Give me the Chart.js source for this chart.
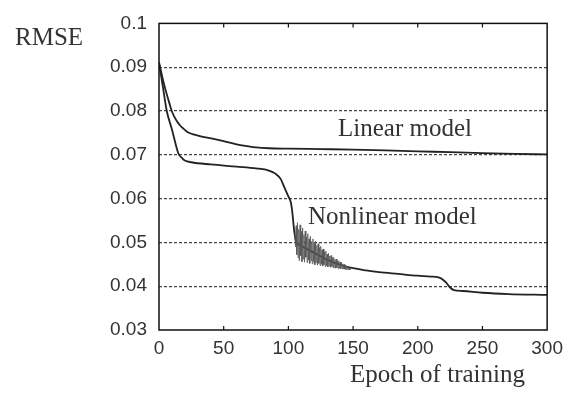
<!DOCTYPE html>
<html>
<head>
<meta charset="utf-8">
<script src="https://cdn.jsdelivr.net/npm/chart.js@4"></script>
<style>
  html, body { margin: 0; padding: 0; background: #fff; }
  #wrap { width: 570px; height: 394px; }
</style>
</head>
<body>
<div id="wrap"><canvas id="chart" width="570" height="394"></canvas></div>
<script>
// values (epoch, RMSE)
const linearEpochs = [0, 2, 4, 6, 8, 10, 12, 14, 16, 18, 20, 22, 26, 30, 36, 43, 50, 60, 68, 75, 85, 100, 125, 150, 175, 200, 225, 250, 275, 300];
const linearRmse = [0.0911, 0.0885, 0.0860, 0.0838, 0.0818, 0.0799, 0.0786, 0.0776, 0.0768, 0.0762, 0.0757, 0.0752, 0.0747, 0.0744, 0.0740, 0.0736, 0.0731, 0.0724, 0.0720, 0.0717, 0.0715, 0.0714, 0.0713, 0.0712, 0.0710, 0.0708, 0.0706, 0.0704, 0.0702, 0.0701];

const nonlinearEpochs = [0, 3, 6, 10, 15, 18, 20, 25, 40, 60, 75, 85, 90, 94, 97, 100, 102, 103, 104, 105, 106, 110, 115, 120, 130, 140, 150, 160, 170, 185, 200, 210, 216, 219, 222, 225, 228, 235, 250, 270, 300];
const nonlinearRmse = [0.0911, 0.0855, 0.0800, 0.0758, 0.0703, 0.0692, 0.0687, 0.0683, 0.0678, 0.0673, 0.0669, 0.0664, 0.0657, 0.0645, 0.0625, 0.0605, 0.0590, 0.0570, 0.0540, 0.0515, 0.0502, 0.0492, 0.0484, 0.0476, 0.0460, 0.0449, 0.0441, 0.0436, 0.0432, 0.0428, 0.0424, 0.0422, 0.0420, 0.0416, 0.0408, 0.0397, 0.0391, 0.0389, 0.0385, 0.0382, 0.0380];

// oscillating part of the nonlinear curve just after the drop
const noiseEpochs = [105, 105.5, 106, 106.5, 107, 107.5, 108, 108.5, 109, 109.5, 110, 110.5, 111, 111.5, 112, 112.5, 113, 113.5, 114, 114.5, 115, 115.5, 116, 116.5, 117, 117.5, 118, 118.5, 119, 119.5, 120, 120.5, 121, 121.5, 122, 122.5, 123, 123.5, 124, 124.5, 125, 125.5, 126, 126.5, 127, 127.5, 128, 128.5, 129, 129.5, 130, 130.5, 131, 131.5, 132, 132.5, 133, 133.5, 134, 134.5, 135, 135.5, 136, 136.5, 137, 137.5, 138, 138.5, 139, 139.5, 140, 140.5, 141, 141.5, 142, 142.5, 143, 143.5, 144, 144.5, 145, 145.5, 146, 146.5, 147, 147.5, 148];
const noiseRmse = [0.0522, 0.0490, 0.0538, 0.0472, 0.0545, 0.0465, 0.0530, 0.0458, 0.0540, 0.0470, 0.0525, 0.0456, 0.0533, 0.0462, 0.0518, 0.0455, 0.0526, 0.0466, 0.0512, 0.0454, 0.0520, 0.0460, 0.0508, 0.0452, 0.0514, 0.0458, 0.0502, 0.0451, 0.0508, 0.0456, 0.0498, 0.0449, 0.0503, 0.0454, 0.0493, 0.0448, 0.0497, 0.0452, 0.0488, 0.0447, 0.0491, 0.0450, 0.0483, 0.0446, 0.0485, 0.0449, 0.0478, 0.0445, 0.0480, 0.0447, 0.0473, 0.0444, 0.0475, 0.0446, 0.0469, 0.0443, 0.0470, 0.0445, 0.0465, 0.0442, 0.0466, 0.0443, 0.0461, 0.0441, 0.0462, 0.0442, 0.0458, 0.0440, 0.0458, 0.0441, 0.0455, 0.0440, 0.0454, 0.0440, 0.0451, 0.0439, 0.0450, 0.0439, 0.0448, 0.0438, 0.0446, 0.0438, 0.0444, 0.0438, 0.0442, 0.0437, 0.0440];

const xTicks = [0, 50, 100, 150, 200, 250, 300];
const yTicks = [0.03, 0.04, 0.05, 0.06, 0.07, 0.08, 0.09, 0.1];

const toPoints = (xs, ys) => xs.map((x, i) => ({ x: x, y: ys[i] }));

const textColor = '#333';
const serif = '"Liberation Serif", "Times New Roman", serif';

// frame box, inward ticks and the free text labels
const framePlugin = {
    id: 'frame',
    afterDraw(chart) {
        const { ctx, chartArea: a, scales } = chart;
        ctx.save();
        ctx.strokeStyle = '#111';
        ctx.lineWidth = 1.5;
        ctx.strokeRect(a.left, a.top, a.right - a.left, a.bottom - a.top);

        ctx.lineWidth = 1.2;
        ctx.beginPath();
        xTicks.slice(1, -1).forEach(v => {
            const px = scales.x.getPixelForValue(v);
            ctx.moveTo(px, a.top);
            ctx.lineTo(px, a.top + 4);
            ctx.moveTo(px, a.bottom);
            ctx.lineTo(px, a.bottom - 4);
        });
        ctx.stroke();

        ctx.fillStyle = textColor;
        ctx.font = '25px ' + serif;
        ctx.textBaseline = 'alphabetic';
        ctx.textAlign = 'left';
        ctx.fillText('RMSE', 15, 45);
        ctx.fillText('Linear model', 338, 136);
        ctx.fillText('Nonlinear model', 308, 224);
        ctx.fillText('Epoch of training', 350, 382);
        ctx.restore();
    }
};

new Chart(document.getElementById('chart'), {
    type: 'line',
    data: {
        datasets: [
            {
                label: 'Nonlinear model (oscillation)',
                data: toPoints(noiseEpochs, noiseRmse),
                borderColor: '#555',
                borderWidth: 0.8,
                pointRadius: 0,
                tension: 0,
                fill: false
            },
            {
                label: 'Linear model',
                data: toPoints(linearEpochs, linearRmse),
                borderColor: '#222',
                borderWidth: 1.8,
                pointRadius: 0,
                cubicInterpolationMode: 'monotone',
                fill: false
            },
            {
                label: 'Nonlinear model',
                data: toPoints(nonlinearEpochs, nonlinearRmse),
                borderColor: '#222',
                borderWidth: 1.8,
                pointRadius: 0,
                cubicInterpolationMode: 'monotone',
                fill: false
            }
        ]
    },
    options: {
        responsive: false,
        animation: false,
        events: [],
        layout: { padding: { left: 0, right: 21, top: 17, bottom: 0 } },
        plugins: {
            legend: { display: false },
            tooltip: { enabled: false }
        },
        scales: {
            x: {
                type: 'linear',
                min: 0,
                max: 300,
                afterBuildTicks: scale => { scale.ticks = xTicks.map(v => ({ value: v })); },
                afterFit: scale => { scale.height = 64; },
                grid: { display: false, drawTicks: false },
                border: { display: false },
                ticks: {
                    padding: 7,
                    color: textColor,
                    font: { family: '"Liberation Sans", Arial, sans-serif', size: 19 }
                }
            },
            y: {
                min: 0.03,
                max: 0.1,
                afterBuildTicks: scale => { scale.ticks = yTicks.map(v => ({ value: v })); },
                afterFit: scale => { scale.width = 159; },
                grid: {
                    drawTicks: false,
                    color: c => (c.tick && (c.tick.value <= 0.031 || c.tick.value >= 0.099)) ? 'rgba(0,0,0,0)' : '#444',
                    lineWidth: 1.3
                },
                border: { display: false, dash: [3, 2] },
                ticks: {
                    padding: 12,
                    color: textColor,
                    font: { family: '"Liberation Sans", Arial, sans-serif', size: 19 },
                    callback: v => String(Math.round(v * 100) / 100)
                }
            }
        }
    },
    plugins: [framePlugin]
});
</script>
</body>
</html>
